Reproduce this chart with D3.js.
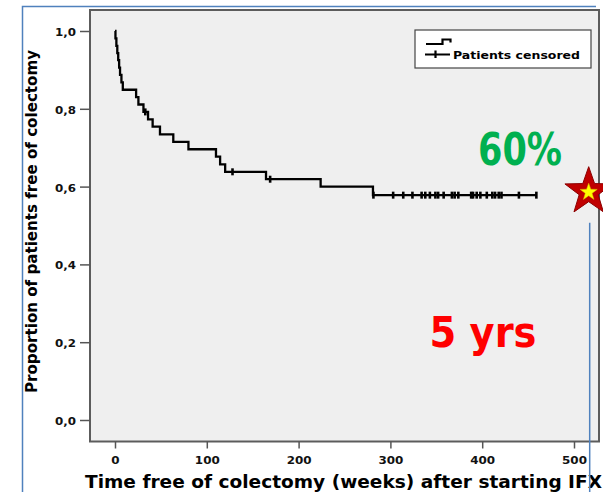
<!DOCTYPE html>
<html>
<head>
<meta charset="utf-8">
<script src="https://cdn.jsdelivr.net/npm/d3@7"></script>
<style>
  html, body { margin: 0; padding: 0; background: #ffffff; overflow: hidden; }
  svg { display: block; }
</style>
</head>
<body>
<svg id="chart" width="603" height="492"></svg>
<script>
// Kaplan–Meier estimate: weeks at which a colectomy occurred and the survival level after each step
const eventWeeks = [0.5, 1.5, 2.5, 3.5, 4.5, 5.5, 7, 8.5,
                    23, 25.5, 31,
                    36, 41, 49, 63.5, 80,
                    110, 114.5, 120,
                    164.5, 224, 281];
const eventSurvival = [0.981, 0.962, 0.943, 0.925, 0.906, 0.887, 0.868, 0.849,
                       0.830, 0.811, 0.792,
                       0.773, 0.754, 0.734, 0.715, 0.696,
                       0.677, 0.657, 0.638,
                       0.619, 0.600, 0.578];
// weeks of follow-up for censored patients
const censorWeeks = [33, 128, 169, 281.5, 303, 314, 324, 334, 338, 343, 349, 352, 358,
                     367, 370, 374, 388, 390, 394, 398, 405, 411, 414, 418, 421, 440, 459];

const xTicks = [0, 100, 200, 300, 400, 500];
const yTicks = [0, 0.2, 0.4, 0.6, 0.8, 1.0];
const yTickLabels = ["0,0", "0,2", "0,4", "0,6", "0,8", "1,0"];

const xTitle = "Time free of colectomy (weeks) after starting IFX";
const yTitle = "Proportion of patients free of colectomy";
const legendLabel = "Patients censored";
const rateLabel = "60%";
const horizonLabel = "5 yrs";
const starWeek = 516;
const starProportion = 0.587;

const svg = d3.select("#chart");
const font = "'DejaVu Sans', Verdana, sans-serif";

const x = d3.scaleLinear().domain([0, 500]).range([115, 574]);
const y = d3.scaleLinear().domain([0, 1]).range([420, 31]);
const plot = { left: 90, top: 10, right: 599, bottom: 441.5 };

// slide frame
svg.append("path")
  .attr("d", "M22.5,492V6.5H596")
  .attr("fill", "none")
  .attr("stroke", "#4f81bd")
  .attr("stroke-width", 1.5);

// plot panel
svg.append("rect")
  .attr("x", plot.left).attr("y", plot.top)
  .attr("width", plot.right - plot.left)
  .attr("height", plot.bottom - plot.top)
  .attr("fill", "#efefef")
  .attr("stroke", "#5c5c5c")
  .attr("stroke-width", 2);

// y axis
const yAxis = svg.append("g")
  .attr("transform", `translate(${plot.left},0)`)
  .call(d3.axisLeft(y).tickValues(yTicks).tickFormat((d, i) => yTickLabels[i]).tickSize(10));
yAxis.select(".domain").remove();
yAxis.selectAll(".tick line").attr("stroke", "#555").attr("stroke-width", 1.5);
yAxis.selectAll(".tick text")
  .attr("font-family", font).attr("font-weight", "bold").attr("font-size", 11)
  .attr("fill", "#111")
  .attr("x", -14).attr("dy", "0.4em")
  .attr("textLength", 21).attr("lengthAdjust", "spacingAndGlyphs");

// x axis
const xAxis = svg.append("g")
  .attr("transform", `translate(0,${plot.bottom})`)
  .call(d3.axisBottom(x).tickValues(xTicks).tickSize(7));
xAxis.select(".domain").remove();
xAxis.selectAll(".tick line").attr("stroke", "#555").attr("stroke-width", 1.5);
xAxis.selectAll(".tick text")
  .attr("font-family", font).attr("font-weight", "bold").attr("font-size", 11)
  .attr("fill", "#111")
  .attr("y", 22).attr("dy", 0)
  .attr("textLength", d => String(d).length * 8.3)
  .attr("lengthAdjust", "spacingAndGlyphs");

// axis titles
svg.append("text")
  .attr("x", 85).attr("y", 488)
  .attr("font-family", font).attr("font-weight", "bold").attr("font-size", 17.5)
  .attr("textLength", 517).attr("lengthAdjust", "spacingAndGlyphs")
  .text(xTitle);

svg.append("text")
  .attr("transform", "translate(37,221.5) rotate(-90)")
  .attr("text-anchor", "middle")
  .attr("font-family", font).attr("font-weight", "bold").attr("font-size", 16)
  .attr("textLength", 343).attr("lengthAdjust", "spacingAndGlyphs")
  .text(yTitle);

// survival step function
const survivalAt = t => {
  let s = 1;
  eventWeeks.forEach((w, i) => { if (w <= t) s = eventSurvival[i]; });
  return s;
};
const lastWeek = d3.max(censorWeeks);
const stepPoints = [[0, 1]].concat(eventWeeks.map((w, i) => [w, eventSurvival[i]]), [[lastWeek, survivalAt(lastWeek)]]);

svg.append("path")
  .datum(stepPoints)
  .attr("fill", "none")
  .attr("stroke", "#000")
  .attr("stroke-width", 2.3)
  .attr("d", d3.line().x(d => x(d[0])).y(d => y(d[1])).curve(d3.curveStepAfter));

// censoring ticks
svg.append("g").selectAll("line")
  .data(censorWeeks)
  .join("line")
  .attr("x1", d => x(d)).attr("x2", d => x(d))
  .attr("y1", d => y(survivalAt(d)) - 3.5)
  .attr("y2", d => y(survivalAt(d)) + 3.5)
  .attr("stroke", "#000")
  .attr("stroke-width", 2.6);

// legend
const legend = svg.append("g");
legend.append("rect")
  .attr("x", 415).attr("y", 30).attr("width", 176).attr("height", 38)
  .attr("fill", "#ffffff").attr("stroke", "#444").attr("stroke-width", 1.2);
legend.append("path")
  .attr("d", "M426,44H442.5V39.5H450.5V42.5")
  .attr("fill", "none").attr("stroke", "#000").attr("stroke-width", 2.2);
legend.append("path")
  .attr("d", "M425,54.5H450M435.5,50.5V58")
  .attr("fill", "none").attr("stroke", "#000").attr("stroke-width", 2.2);
legend.append("text")
  .attr("x", 453).attr("y", 58.5)
  .attr("font-family", font).attr("font-weight", "bold").attr("font-size", 10.5)
  .attr("textLength", 127).attr("lengthAdjust", "spacingAndGlyphs")
  .text(legendLabel);

// annotations
svg.append("text")
  .attr("x", 478).attr("y", 165)
  .attr("font-family", "'Comic Sans MS', 'DejaVu Sans', sans-serif")
  .attr("font-weight", "bold")
  .attr("font-size", 45)
  .attr("fill", "#00b050")
  .attr("textLength", 84).attr("lengthAdjust", "spacingAndGlyphs")
  .text(rateLabel);

svg.append("text")
  .attr("x", 429.5).attr("y", 346.5)
  .attr("font-family", "'Comic Sans MS', 'DejaVu Sans', sans-serif")
  .attr("font-weight", "bold")
  .attr("font-size", 43.5)
  .attr("fill", "#ff0000")
  .attr("textLength", 107).attr("lengthAdjust", "spacingAndGlyphs")
  .text(horizonLabel);

const starPoints = (cx, cy, R, r) => d3.range(10).map(k => {
  const a = -Math.PI / 2 + k * Math.PI / 5;
  const rad = k % 2 === 0 ? R : r;
  return [cx + rad * Math.cos(a), cy + rad * Math.sin(a)];
});
const sx = x(starWeek), sy = y(starProportion);

svg.append("line")
  .attr("x1", sx + 1).attr("x2", sx + 1)
  .attr("y1", sy + 31).attr("y2", 492)
  .attr("stroke", "#4f81bd").attr("stroke-width", 1.5);

svg.append("polygon")
  .attr("points", starPoints(sx, sy, 25, 10).join(" "))
  .attr("fill", "#c00000").attr("stroke", "#8b0000").attr("stroke-width", 1);
svg.append("polygon")
  .attr("points", starPoints(sx, sy + 0.5, 9, 3.6).join(" "))
  .attr("fill", "#ffff00").attr("stroke", "#d8c000").attr("stroke-width", 0.5);
</script>
</body>
</html>
